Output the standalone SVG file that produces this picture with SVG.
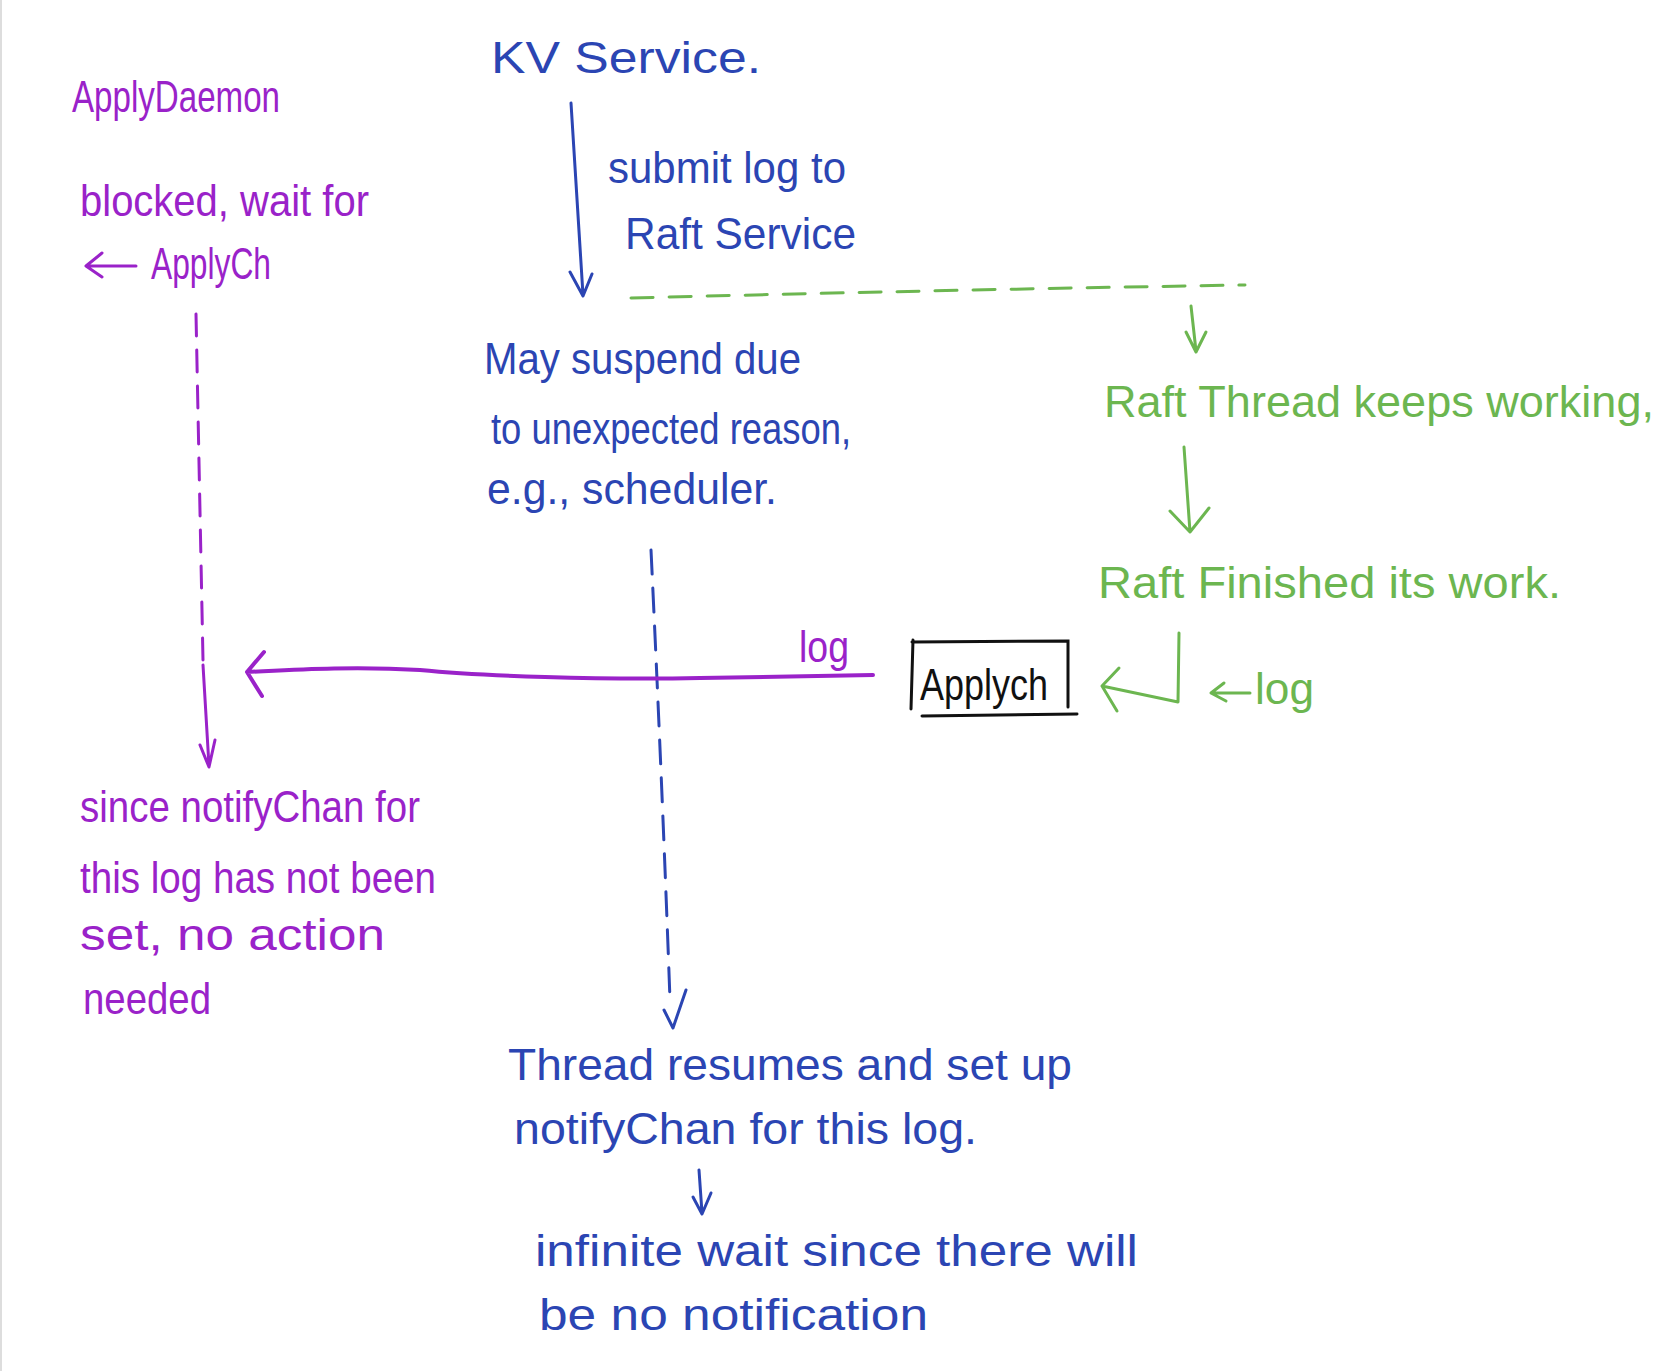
<svg xmlns="http://www.w3.org/2000/svg" width="1668" height="1371" viewBox="0 0 1668 1371">
<style>
text{font-family:"Liberation Sans","DejaVu Sans",sans-serif;font-size:44px}
.b{fill:#2b45b3}.p{fill:#9a22c9}.g{fill:#6cb650}.k{fill:#111}
.lb{stroke:#2b45b3;stroke-width:3;fill:none;stroke-linecap:round;stroke-linejoin:round}
.lp{stroke:#9a22c9;stroke-width:3;fill:none;stroke-linecap:round;stroke-linejoin:round}
.lg{stroke:#6cb650;stroke-width:3;fill:none;stroke-linecap:round;stroke-linejoin:round}
</style>
<rect width="1668" height="1371" fill="#fff"/>
<line x1="1" y1="0" x2="1" y2="1371" stroke="#ddd" stroke-width="2"/>

<g id="kv-service">
<text class="b" x="491" y="73" textLength="270" lengthAdjust="spacingAndGlyphs" font-size="50">KV  Service.</text>
</g>
<g id="submit-label">
<text class="b" x="608" y="183" textLength="238" lengthAdjust="spacingAndGlyphs">submit  log  to</text>
<text class="b" x="625" y="249" textLength="231" lengthAdjust="spacingAndGlyphs">Raft  Service</text>
</g>
<g id="may-suspend">
<text class="b" x="484" y="374" textLength="317" lengthAdjust="spacingAndGlyphs">May  suspend  due</text>
<text class="b" x="491" y="444" textLength="360" lengthAdjust="spacingAndGlyphs">to unexpected reason,</text>
<text class="b" x="487" y="504" textLength="290" lengthAdjust="spacingAndGlyphs">e.g., scheduler.</text>
</g>
<g id="thread-resumes">
<text class="b" x="508" y="1080" textLength="564" lengthAdjust="spacingAndGlyphs">Thread  resumes  and  set  up</text>
<text class="b" x="514" y="1144" textLength="463" lengthAdjust="spacingAndGlyphs">notifyChan  for  this  log.</text>
</g>
<g id="infinite-wait">
<text class="b" x="535" y="1266" textLength="603" lengthAdjust="spacingAndGlyphs">infinite  wait  since  there will</text>
<text class="b" x="539" y="1330" textLength="389" lengthAdjust="spacingAndGlyphs">be  no  notification</text>
</g>

<g id="apply-daemon">
<text class="p" x="72" y="112" textLength="208" lengthAdjust="spacingAndGlyphs">ApplyDaemon</text>
<text class="p" x="80" y="216" textLength="289" lengthAdjust="spacingAndGlyphs">blocked, wait for</text>
<path class="lp" d="M136,266 L87,266 M102,253 L86,266 L102,277"/>
<text class="p" x="151" y="279" textLength="120" lengthAdjust="spacingAndGlyphs">ApplyCh</text>
</g>
<g id="no-action">
<text class="p" x="80" y="822" textLength="340" lengthAdjust="spacingAndGlyphs">since  notifyChan  for</text>
<text class="p" x="80" y="893" textLength="356" lengthAdjust="spacingAndGlyphs">this  log  has  not  been</text>
<text class="p" x="80" y="950" textLength="305" lengthAdjust="spacingAndGlyphs">set,  no  action</text>
<text class="p" x="83" y="1014" textLength="128" lengthAdjust="spacingAndGlyphs">needed</text>
</g>

<g id="raft-thread">
<text class="g" x="1104" y="417" textLength="550" lengthAdjust="spacingAndGlyphs">Raft  Thread  keeps  working,</text>
</g>
<g id="raft-finished">
<text class="g" x="1098" y="598" textLength="463" lengthAdjust="spacingAndGlyphs">Raft  Finished  its  work.</text>
</g>
<g id="log-note">
<path class="lg" d="M1250,693 L1212,693 M1224,683 L1211,693 L1226,701"/>
<text class="g" x="1255" y="704" textLength="59" lengthAdjust="spacingAndGlyphs">log</text>
</g>

<g id="applych">
<path d="M912,642 L1068,641 L1068,707 M913,640 L911,709 M922,716 L1077,714" stroke="#111" stroke-width="3" fill="none" stroke-linecap="round"/>
<text class="k" x="920" y="700" textLength="128" lengthAdjust="spacingAndGlyphs" font-size="48">Applych</text>
</g>

<g id="connectors">
<path class="lb" d="M571,103 L583,295 M570,272 L583,296 L592,274"/>
<path class="lb" d="M651,550 Q662,780 670,1000" stroke-dasharray="24,14" stroke-width="2"/>
<path class="lb" d="M664,1010 L673,1028 L686,990" stroke-width="2.5"/>
<path class="lb" d="M699,1170 L702,1213 M693,1197 L702,1214 L711,1193" stroke-width="2.5"/>
<path class="lg" d="M631,298 Q940,290 1245,285" stroke-dasharray="22,16" stroke-width="2.5"/>
<path class="lg" d="M1191,306 L1196,351 M1186,332 L1196,352 L1206,332" stroke-width="2.5"/>
<path class="lg" d="M1184,447 L1190,532 M1170,511 L1190,532 L1209,508" stroke-width="2.5"/>
<path class="lg" d="M1179,633 L1178,702 L1102,686 M1119,668 L1102,686 L1117,711"/>
<path class="lp" d="M196,314 L203,660" stroke-dasharray="22,14" stroke-width="2"/>
<path class="lp" d="M203,665 L209,766 M200,745 L209,767 L215,740" stroke-width="2.5"/>
<path d="M873,675 C820,676 760,677 700,678 C600,680 480,676 420,670 C350,666 290,670 247,672 M264,652 L247,672 L262,696" stroke="#9a22c9" stroke-width="4" fill="none" stroke-linecap="round" stroke-linejoin="round"/>
<text class="p" x="799" y="662" textLength="50" lengthAdjust="spacingAndGlyphs" font-size="30">log</text>
</g>
</svg>
